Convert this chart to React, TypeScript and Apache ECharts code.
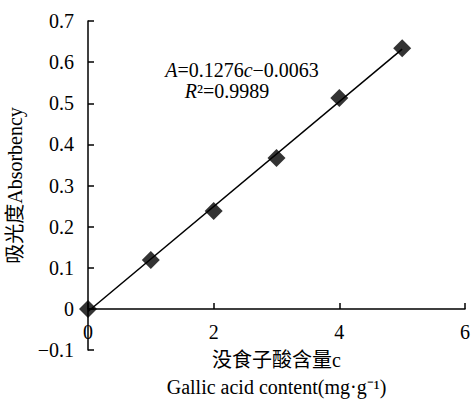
import React, { useEffect, useRef } from "react";
import * as echarts from "echarts";

const concentration = [0, 1, 2, 3, 4, 5];
const absorbance = [0, 0.119, 0.238, 0.367, 0.513, 0.634];
const trendX = [0, 5];
const trendY = [-0.0063, 0.6317];
const xTicks = { min: 0, max: 6, interval: 2 };
const yTicks = { min: -0.1, max: 0.7, interval: 0.1 };

const FONT = "Liberation Serif, Noto Sans CJK SC, serif";
const FS = 20;

export default function App() {
  const ref = useRef<HTMLDivElement>(null);
  useEffect(() => {
    document.body.style.margin = "0";
    if (!ref.current) return;
    const chart = echarts.init(ref.current, undefined, { renderer: "svg" });
    chart.setOption({
      animation: false,
      backgroundColor: "#fff",
      textStyle: { fontFamily: FONT, color: "#000" },
      grid: { left: 88, right: 7, top: 21, bottom: 64, containLabel: false, outerBoundsMode: "none" },
      xAxis: {
        type: "value",
        min: xTicks.min,
        max: xTicks.max,
        interval: xTicks.interval,
        offset: -41,
        axisLine: { onZero: false, lineStyle: { color: "#000", width: 1.5 } },
        axisTick: { inside: true, length: 6, lineStyle: { color: "#000", width: 1.5 } },
        axisLabel: { color: "#000", fontFamily: FONT, fontSize: FS, margin: 13 },
        splitLine: { show: false },
        name: "没食子酸含量c\nGallic acid content(mg·g⁻¹)",
        nameLocation: "middle",
        nameGap: 36,
        nameTextStyle: { color: "#000", fontFamily: FONT, fontSize: FS, lineHeight: 27 },
      },
      yAxis: {
        type: "value",
        min: yTicks.min,
        max: yTicks.max,
        interval: yTicks.interval,
        axisLine: { lineStyle: { color: "#000", width: 1.5 } },
        axisTick: { inside: true, length: 6, lineStyle: { color: "#000", width: 1.5 } },
        axisLabel: {
          color: "#000",
          fontFamily: FONT,
          fontSize: FS,
          margin: 14,
          formatter: (v: number) => {
            const r = Math.round(v * 10) / 10;
            if (r === 0) return "0";
            return r < 0 ? "\u2212" + Math.abs(r).toFixed(1) : r.toFixed(1);
          },
        },
        splitLine: { show: false },
        name: "吸光度Absorbency",
        nameLocation: "middle",
        nameRotate: 90,
        nameGap: 63,
        nameTextStyle: { color: "#000", fontFamily: FONT, fontSize: FS },
      },
      graphic: [
        {
          type: "text",
          x: 242,
          y: 70,
          style: {
            text: "{i|A}=0.1276{i|c}\u22120.0063",
            align: "center",
            verticalAlign: "middle",
            fontFamily: FONT,
            fontSize: FS,
            fill: "#000",
            rich: { i: { fontStyle: "italic", fontFamily: FONT, fontSize: FS, fill: "#000" } },
          },
        },
        {
          type: "text",
          x: 227,
          y: 91,
          style: {
            text: "{i|R}²=0.9989",
            align: "center",
            verticalAlign: "middle",
            fontFamily: FONT,
            fontSize: FS,
            fill: "#000",
            rich: { i: { fontStyle: "italic", fontFamily: FONT, fontSize: FS, fill: "#000" } },
          },
        },
      ],
      series: [
        {
          type: "line",
          data: trendX.map((x, i) => [x, trendY[i]]),
          symbol: "none",
          lineStyle: { color: "#000", width: 1.5 },
          silent: true,
          z: 1,
        },
        {
          type: "scatter",
          data: concentration.map((x, i) => [x, absorbance[i]]),
          symbol: "diamond",
          symbolSize: 18,
          itemStyle: { color: "#000" },
          z: 2,
        },
      ],
    });
    return () => chart.dispose();
  }, []);
  return <div ref={ref} style={{ width: 472, height: 414 }} />;
}
